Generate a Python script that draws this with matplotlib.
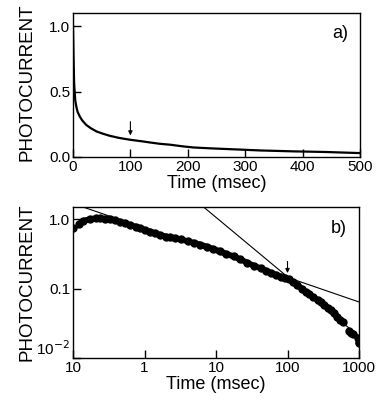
import matplotlib
matplotlib.use("Agg")
import matplotlib.pyplot as plt
import numpy as np

# ---- data: panel a (linear) ----
ta = [0, 0.5, 1, 2, 3, 4, 5.8, 8, 11.7, 16, 23, 31, 41, 52, 64, 80, 99, 120,
      134, 151, 169, 190, 209, 240, 267, 300, 326, 360, 384, 410, 442, 470, 500]
va = [1.0, 0.88, 0.75, 0.56, 0.49, 0.43, 0.385, 0.345, 0.31, 0.28, 0.245, 0.22,
      0.195, 0.178, 0.162, 0.146, 0.132, 0.12, 0.111, 0.101, 0.094, 0.082, 0.073,
      0.066, 0.061, 0.055, 0.050, 0.046, 0.043, 0.041, 0.038, 0.034, 0.030]

# ---- data: panel b (log-log) ----
tb_first = [0.099]
vb_first = [0.735]
tb = [0.123, 0.14, 0.173, 0.21, 0.24, 0.28, 0.33, 0.39, 0.46, 0.54, 0.63, 0.75,
      0.87, 1.0, 1.2, 1.4, 1.66, 2.0, 2.3, 2.7, 3.2, 4.0, 4.9, 6.0, 7.5, 9.2,
      11.5, 14.0, 17.8, 22.0, 27.5, 34, 42.6, 50, 58.7, 70, 81, 92, 105, 120,
      137, 158, 180, 203, 226, 265, 295, 326, 365, 403, 450, 500, 545, 590]
vb = [0.86, 0.94, 1.0, 1.02, 1.02, 1.01, 1.0, 0.96, 0.915, 0.87, 0.82, 0.78,
      0.735, 0.70, 0.66, 0.625, 0.59, 0.56, 0.545, 0.53, 0.51, 0.48, 0.455,
      0.43, 0.40, 0.37, 0.345, 0.315, 0.29, 0.262, 0.235, 0.212, 0.195, 0.18,
      0.169, 0.157, 0.148, 0.141, 0.135, 0.123, 0.112, 0.100, 0.090, 0.083,
      0.076, 0.068, 0.063, 0.058, 0.053, 0.049, 0.044, 0.039, 0.035, 0.033]
tb_tail = [730, 780, 820, 960, 990, 1000]
vb_tail = [0.0245, 0.0232, 0.0225, 0.0197, 0.0172, 0.0162]

fit1_t = [0.138, 1000]
fit1_v = [1.49, 0.064]
fit2_t = [6.7, 1000]
fit2_v = [1.49, 0.0205]

xticks_a = [0, 100, 200, 300, 400, 500]
yticks_a = [0.0, 0.5, 1.0]
yticklabels_a = ["0.0", "0.5", "1.0"]
xticks_b = [0.1, 1, 10, 100, 1000]
xticklabels_b = ["10", "1", "10", "100", "1000"]
yticks_b = [0.01, 0.1, 1.0]
yticklabels_b = [r"10$^{-2}$", "0.1", "1.0"]

W, H = 383, 412
fig = plt.figure(figsize=(W / 100, H / 100), dpi=100)
fig.patch.set_facecolor("white")

font = ["Liberation Sans", "DejaVu Sans"]
plt.rcParams["font.family"] = font

def box(l, t, r, b):
    return [l / W, 1 - b / H, (r - l) / W, (b - t) / H]

axa = fig.add_axes(box(73, 13, 360, 157))
axb = fig.add_axes(box(73, 207, 359, 358))

# panel a
axa.plot(ta, va, color="black", lw=1.6)
axa.set_xlim(0, 500)
axa.set_ylim(0, 1.1)
axa.set_xticks(xticks_a)
axa.set_xticklabels([str(x) for x in xticks_a])
axa.set_yticks(yticks_a)
axa.set_yticklabels(yticklabels_a)
axa.annotate("", xy=(100, 0.165), xytext=(100, 0.27),
             arrowprops=dict(arrowstyle="-|>", lw=0.8, color="black",
                             mutation_scale=6, shrinkA=0, shrinkB=0))
axa.text(0.93, 0.86, "a)", transform=axa.transAxes, ha="center", va="center",
         fontsize=13)

# panel b
axb.set_xscale("log")
axb.set_yscale("log")
axb.plot(fit1_t, fit1_v, color="black", lw=0.8)
axb.plot(fit2_t, fit2_v, color="black", lw=0.8)
axb.plot(tb, vb, color="black", lw=4.2, marker="o", ms=5, solid_capstyle="round")
axb.plot(tb_first, vb_first, "o", color="black", ms=5)
axb.plot(tb_tail, vb_tail, "o", color="black", ms=5)
axb.set_xlim(0.1, 1000)
axb.set_ylim(0.01, 1.49)
axb.set_xticks(xticks_b)
axb.set_xticklabels(xticklabels_b)
axb.set_yticks(yticks_b)
axb.set_yticklabels(yticklabels_b)
axb.minorticks_off()
axb.annotate("", xy=(100, 0.167), xytext=(100, 0.245),
             arrowprops=dict(arrowstyle="-|>", lw=0.8, color="black",
                             mutation_scale=6, shrinkA=0, shrinkB=0))
axb.text(0.93, 0.86, "b)", transform=axb.transAxes, ha="center", va="center",
         fontsize=13)

for ax in (axa, axb):
    ax.tick_params(direction="in", length=6, width=1, labelsize=11, pad=2,
                   top=False, right=False)
    for s in ax.spines.values():
        s.set_linewidth(1.0)
        s.set_color("black")
    ax.set_xlabel("Time (msec)", fontsize=13, labelpad=1)

# raise the lowest log label slightly, as in the reference
axb.get_yticklabels()[0].set_verticalalignment("bottom")

fig.text(27 / W, 1 - 82 / H, "PHOTOCURRENT", rotation=90, ha="center",
         va="center", fontsize=13.5)
fig.text(27 / W, 1 - 282 / H, "PHOTOCURRENT", rotation=90, ha="center",
         va="center", fontsize=13.5)

fig.savefig("out.png", dpi=100)
